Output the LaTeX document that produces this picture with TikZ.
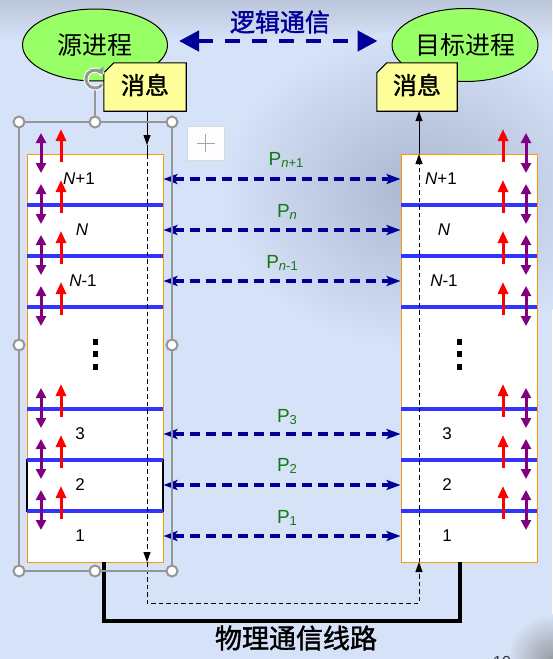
\documentclass[tikz,border=0pt]{standalone}
\usepackage{fontspec}
\setmainfont{Liberation Sans}
\newfontfamily\cjk{Noto Sans CJK SC}
\newfontfamily\cjkb[FakeBold=1.5]{Noto Sans CJK SC}
\usetikzlibrary{arrows.meta,shapes.geometric,calc}
\definecolor{bg}{RGB}{214,226,248}
\definecolor{topc}{RGB}{188,198,218}
\definecolor{blobc}{RGB}{170,182,206}
\definecolor{navy}{RGB}{0,0,153}
\definecolor{lyblue}{RGB}{51,51,255}
\definecolor{lypurple}{RGB}{128,0,128}
\definecolor{pgreen}{RGB}{20,120,20}
\definecolor{elgreen}{RGB}{153,255,102}
\definecolor{msgyellow}{RGB}{255,255,153}
\definecolor{stackorange}{RGB}{255,153,0}
\definecolor{selgray}{RGB}{150,150,150}
\newcommand\psub[1]{\raisebox{-2pt}{\fontsize{13}{13}\selectfont #1}}
\begin{document}
\begin{tikzpicture}[x=1pt,y=-1pt,
  stackbox/.style={draw=stackorange, fill=white, line width=0.9pt, minimum width=136pt, minimum height=408pt, inner sep=0pt},
  layerline/.style={draw=lyblue, line width=3.2pt},
  lbl/.style={font=\fontsize{17}{20}\selectfont, inner sep=0pt},
  plbl/.style={text=pgreen, font=\fontsize{19}{22}\selectfont, inner sep=0pt},
  parr/.style={draw=navy, line width=3.2pt, dash pattern=on 10pt off 6pt,
    {Stealth[length=14pt,width=10pt,inset=3pt]}-{Stealth[length=14pt,width=10pt,inset=3pt]}},
  purparr/.style={draw=lypurple, fill=lypurple, line width=3pt,
    {Triangle[length=10pt,width=10pt]}-{Triangle[length=10pt,width=10pt]}},
  redarr/.style={draw=red, fill=red, line width=3pt, -{Triangle[length=12pt,width=10pt]}},
  proc/.style={ellipse, draw=black, line width=1pt, fill=elgreen, inner sep=0pt,
    font=\cjk\fontsize{25}{28}\selectfont},
  msgnode/.style={inner sep=0pt, minimum height=48pt, font=\cjkb\fontsize{24}{26}\selectfont},
  msgshape/.style={draw=black, line width=1.1pt, fill=msgyellow},
  flow/.style={draw=black, line width=1pt},
  flowdash/.style={flow, dash pattern=on 4.5pt off 3pt},
  tip/.style={-{Triangle[length=10pt,width=7pt]}},
  phys/.style={draw=black, line width=3.5pt},
  selline/.style={draw=selgray, line width=1.2pt},
  handle/.style={draw=selgray, fill=white, line width=2pt}
]
% background
\fill[bg] (0,0) rectangle (552,659);
\useasboundingbox (0,0) rectangle (552,659);
\shade[top color=topc, bottom color=bg] (0,0) rectangle (552,40);
\shade[inner color=blobc, outer color=bg] (420,190) ellipse [x radius=200, y radius=160];
\shade[inner color=gray!70!bg, outer color=bg] (552,659) circle (45);

% stacks
\node[stackbox] (L) at (95,358) {};
\node[stackbox] (R) at (469,358) {};
\draw[black, line width=1.2pt] (27,460) rectangle (163,511);
\foreach \y in {205,256,307,409,460,511}{
  \draw[layerline] (27,\y) -- (163,\y);
  \draw[layerline] (401,\y) -- (537,\y);
}
\foreach \b in {154,205,256,307,409,460,511}{
  \draw[purparr] (41,{\b-21}) -- (41,{\b+19});
  \draw[redarr] (61,{\b+8}) -- (61,{\b-25});
  \draw[purparr] (526,{\b-21}) -- (526,{\b+19});
  \draw[redarr] (503,{\b+8}) -- (503,{\b-25});
}

% layer labels
\node[lbl] (Lnp) at (79,179) {\textit{N}+1};
\node[lbl] (Ln)  at (82,230) {\textit{N}};
\node[lbl] (Lnm) at (83,281) {\textit{N}-1};
\node[lbl] (L3)  at (80,434) {3};
\node[lbl] (L2)  at (80,485) {2};
\node[lbl] (L1)  at (80,536) {1};
\node[lbl] (Rnp) at (441,179) {\textit{N}+1};
\node[lbl] (Rn)  at (444,230) {\textit{N}};
\node[lbl] (Rnm) at (444,281) {\textit{N}-1};
\node[lbl] (R3)  at (447,434) {3};
\node[lbl] (R2)  at (447,485) {2};
\node[lbl] (R1)  at (447,536) {1};
\foreach \y in {342,354,367}{
  \fill (92.5,{\y-2.7}) rectangle (97.9,{\y+2.7});
  \fill (457,{\y-2.7}) rectangle (462.4,{\y+2.7});
}

% peer protocols
\foreach \a/\b in {Lnp/Rnp,Ln/Rn,Lnm/Rnm,L3/R3,L2/R2,L1/R1}{
  \draw[parr] (L.east |- \a) -- (R.west |- \b);
}
\node[plbl] (Pnp) at (286,160) {P\psub{\textit{n}+1}};
\node[plbl] (Pn)  at (287,212) {P\psub{\textit{n}}};
\node[plbl] (Pnm) at (282,263) {P\psub{\textit{n}-1}};
\node[plbl] (P3)  at (287,417) {P\psub{3}};
\node[plbl] (P2)  at (287,466) {P\psub{2}};
\node[plbl] (P1)  at (287,518) {P\psub{1}};

% processes and messages
\node[proc, minimum width=145pt, minimum height=72pt] (src) at (95,45) {源进程};
\node[proc, minimum width=146pt, minimum height=73pt] (dst) at (465,45) {目标进程};
\node[msgnode, minimum width=82pt] (mL) at (145,87) {};
\node[msgnode, minimum width=80pt] (mR) at (417,87) {};
\fill[msgshape] ($(mL.north west)+(0,10)$) -- ($(mL.north west)+(10,0)$) -- (mL.north east) -- (mL.south east) -- (mL.south west) -- cycle;
\fill[msgshape] ($(mR.north west)+(0,10)$) -- ($(mR.north west)+(10,0)$) -- (mR.north east) -- (mR.south east) -- (mR.south west) -- cycle;
\node[msgnode] (mLt) at ([yshift=2pt]mL.center) {消息};
\node[msgnode] (mRt) at ([yshift=2pt]mR.center) {消息};

% logical communication
\draw[navy, line width=4.5pt, dash pattern=on 15pt off 12pt,
  {Triangle[length=20pt,width=20pt]}-{Triangle[length=20pt,width=20pt]},
  shorten <=11pt, shorten >=14pt] ([yshift=4pt]src.east) -- ([yshift=4pt]dst.west);
\node[text=navy, font=\cjkb\fontsize{25}{28}\selectfont, inner sep=0pt] (logic) at (280,22) {逻辑通信};

% data flow path
\coordinate (la) at (147,145);
\coordinate (lt) at (147,154);
\coordinate (lb) at (147,562);
\coordinate (ld) at (147,603);
\coordinate (rd) at (419,603);
\coordinate (rb) at (419,562);
\coordinate (rt) at (419,154);
\draw[flow, tip] (mL.south -| la) -- (la);
\draw[flow] (la) -- (lt);
\draw[flowdash, tip] (lt) -- (lb);
\draw[flowdash, tip] (lb) -- (ld) -- (rd) -- (rb);
\draw[flowdash, tip] (rb) -- (rt);
\draw[flow, tip] (rt) -- (mR.south -| rt);

% physical line
\coordinate (pl) at (104,562);
\coordinate (pr) at (460,562);
\draw[phys] (pl) -- ++(0,59) -| (pr);
\node[font=\cjkb\fontsize{27}{30}\selectfont, inner sep=0pt] (phy) at (296,638) {物理通信线路};
\node[font=\fontsize{16}{18}\selectfont, text=black!80, inner sep=0pt] (pg) at (502,662) {10};

% selection overlay
\draw[selline] (19,122) rectangle (172,571);
\draw[selline] (95,89) -- (95,116);
\draw[white, line width=5pt] (95,79) ++(40:9) arc[start angle=40, end angle=330, radius=9];
\draw[selgray, line width=3pt, -{Triangle[length=6pt,width=9pt]}] (95,79) ++(40:9) arc[start angle=40, end angle=330, radius=9];
\foreach \p in {(19,122),(95,122),(172,122),(19,345),(172,345),(19,571),(95,571),(172,571)}{
  \draw[handle] \p circle (5.5);
}
\node[draw=gray!30, fill=white!94!bg, minimum width=37pt, minimum height=34pt, inner sep=0pt] (plus) at (205.5,143) {};
\draw[gray!70, line width=1pt] ($(plus.center)+(-9,0)$) -- ($(plus.center)+(9,0)$);
\draw[gray!70, line width=1pt] ($(plus.center)+(0,-9)$) -- ($(plus.center)+(0,9)$);
\end{tikzpicture}
\end{document}
